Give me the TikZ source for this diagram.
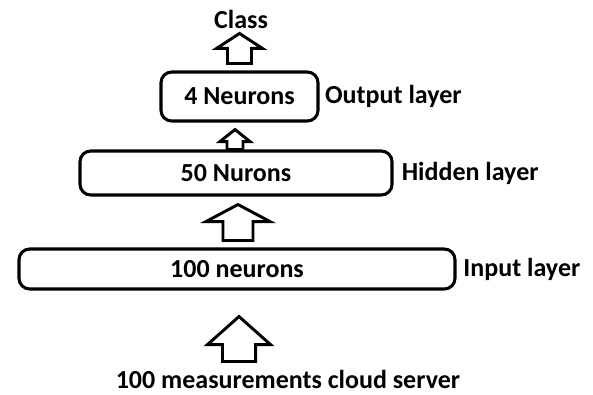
\documentclass[tikz,border=0pt]{standalone}
\usepackage{fontspec}
\setmainfont{Carlito}
\usetikzlibrary{calc, positioning}
\tikzset{
  layer/.style={draw, line width=2.3pt, rounded corners=8pt, inner sep=0pt},
  txt/.style={inner sep=0pt},
  blockline/.style={draw, line width=2.2pt, fill=white, line join=miter}
}
% block arrow: from, to, shaft half width, head half width, head length
\newcommand{\blockup}[5]{%
  \draw[blockline] let \p1=(#1), \p2=(#2) in
    (\x1-#3,\y1) -- (\x1-#3,\y2-#5) -- (\x1-#4,\y2-#5) -- (\x1,\y2)
    -- (\x1+#4,\y2-#5) -- (\x1+#3,\y2-#5) -- (\x1+#3,\y1) -- cycle;}

\begin{document}
\begin{tikzpicture}[x=0.75pt, y=-0.75pt, font=\fontsize{19.5}{22}\selectfont\bfseries]
\useasboundingbox (0,0) rectangle (593,394);
\node[txt, anchor=base] (cls) at (241,28) {Class};
\node[layer, minimum width=117.75pt, minimum height=36.75pt] (outp) at (239.5,96.5) {4 Neurons};
\node[layer, minimum width=234pt, minimum height=33pt] (hid) at (236,173) {50 Nurons};
\node[layer, minimum width=327pt, minimum height=30pt] (inp) at (237,269) {100 neurons};
\node[txt, anchor=base] (src) at (288,388) {100 measurements cloud server};
\node[txt, right=4pt of outp] (outtag) {Output layer};
\node[txt, right=6pt of hid] (hidtag) {Hidden layer};
\node[txt, right=5pt of inp] (inptag) {Input layer};

\blockup{$(outp.north)+(0,-7)$}{$(cls.south)+(0,5)$}{9pt}{17.25pt}{11.25pt}
\blockup{$(hid.north)+(-1,0)$}{$(outp.south)+(0,7)$}{6pt}{11.25pt}{9pt}
\blockup{$(inp.north)+(1,-7)$}{$(hid.south)+(0,8)$}{11.25pt}{24pt}{12.75pt}
\blockup{$(src.north -| inp.south)+(2,-8)$}{$(inp.south)+(0,26)$}{12.4pt}{23.6pt}{21pt}
\end{tikzpicture}
\end{document}
